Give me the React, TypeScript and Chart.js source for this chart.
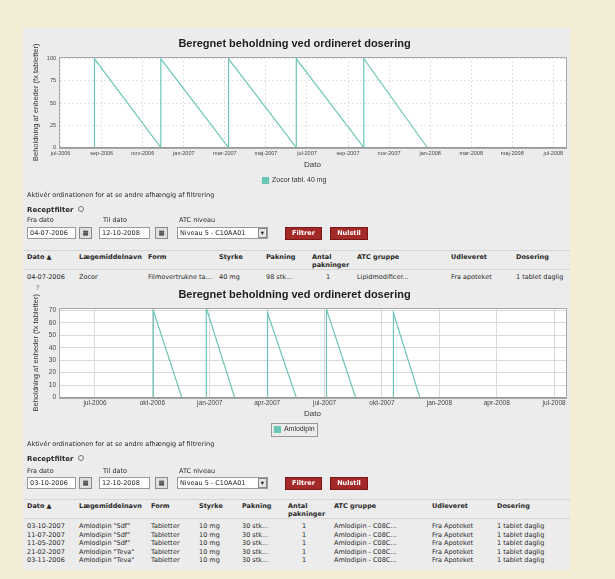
import React, { useEffect, useRef } from 'react';
import { Chart, registerables } from 'chart.js';

Chart.register(...registerables);

// ---------- Data (x = month index, 0 = jan-2006) ----------
const chartTitle = 'Beregnet beholdning ved ordineret dosering';
const yAxisTitle = 'Beholdning af enheder (fx tabletter)';
const xAxisTitle = 'Dato';

const chart1Months = [7.65, 7.65, 10.88, 10.88, 14.18, 14.18, 17.48, 17.48, 20.77, 20.77, 23.86];
const chart1Stock = [0, 100, 0, 100, 0, 100, 0, 100, 0, 100, 0];
const chart1TickMonths = [6, 8, 10, 12, 14, 16, 18, 20, 22, 24, 26, 28, 30];
const chart1TickLabels = ['jul-2006', 'sep-2006', 'nov-2006', 'jan-2007', 'mar-2007', 'maj-2007', 'jul-2007', 'sep-2007', 'nov-2007', 'jan-2008', 'mar-2008', 'maj-2008', 'jul-2008'];
const chart1YTicks = [0, 25, 50, 75, 100];
const chart1Legend = 'Zocor tabl. 40 mg';

const chart2Months = [9.05, 9.05, 10.54, 10.54, 11.82, 11.82, 13.3, 13.3, 15.02, 15.02, 16.52, 16.52, 18.1, 18.1, 19.62, 19.62, 21.6, 21.6, 22.98];
const chart2Stock = [0, 70, 0, null, 0, 72, 0, null, 0, 68, 0, null, 0, 71, 0, null, 0, 68, 0];
const chart2TickMonths = [6, 9, 12, 15, 18, 21, 24, 27, 30];
const chart2TickLabels = ['jul-2006', 'okt-2006', 'jan-2007', 'apr-2007', 'jul-2007', 'okt-2007', 'jan-2008', 'apr-2008', 'jul-2008'];
const chart2YTicks = [0, 10, 20, 30, 40, 50, 60, 70];
const chart2Legend = 'Amlodipin';

// ---------- page text ----------
const tableHeader = ['Dato ▲', 'Lægemiddelnavn', 'Form', 'Styrke', 'Pakning', 'Antal|pakninger', 'ATC gruppe', 'Udleveret', 'Dosering'];
const table1Rows = [
  ['04-07-2006', 'Zocor', 'Filmovertrukne ta...', '40 mg', '98 stk...', '1', 'Lipidmodificer...', 'Fra apoteket', '1 tablet daglig'],
];
const table2Rows = [
  ['03-10-2007', 'Amlodipin "Sdf"', 'Tabletter', '10 mg', '30 stk...', '1', 'Amlodipin - C08C...', 'Fra Apoteket', '1 tablet daglig'],
  ['11-07-2007', 'Amlodipin "Sdf"', 'Tabletter', '10 mg', '30 stk...', '1', 'Amlodipin - C08C...', 'Fra Apoteket', '1 tablet daglig'],
  ['11-05-2007', 'Amlodipin "Sdf"', 'Tabletter', '10 mg', '30 stk...', '1', 'Amlodipin - C08C...', 'Fra Apoteket', '1 tablet daglig'],
  ['21-02-2007', 'Amlodipin "Teva"', 'Tabletter', '10 mg', '30 stk...', '1', 'Amlodipin - C08C...', 'Fra Apoteket', '1 tablet daglig'],
  ['03-11-2006', 'Amlodipin "Teva"', 'Tabletter', '10 mg', '30 stk...', '1', 'Amlodipin - C08C...', 'Fra Apoteket', '1 tablet daglig'],
];

const LINE = '#6cc6b8';

const plotFrame = {
  id: 'plotFrame',
  beforeDraw(chart: any) {
    const { ctx, chartArea: a } = chart;
    ctx.save();
    ctx.fillStyle = '#ffffff';
    ctx.fillRect(a.left, a.top, a.right - a.left, a.bottom - a.top);
    ctx.restore();
  },
  afterDraw(chart: any, _args: any, opts: any) {
    const { ctx, chartArea: a } = chart;
    ctx.save();
    ctx.strokeStyle = '#a8a8a8';
    ctx.lineWidth = 1;
    ctx.strokeRect(Math.round(a.left) + 0.5, Math.round(a.top) + 0.5, Math.round(a.right - a.left), Math.round(a.bottom - a.top));
    if (opts && opts.boxLegend && chart.legend && chart.legend.legendHitBoxes && chart.legend.legendHitBoxes.length) {
      const hb = chart.legend.legendHitBoxes[0];
      ctx.strokeStyle = '#9a9a9a';
      ctx.strokeRect(Math.round(hb.left - 3) + 0.5, Math.round(hb.top - 3) + 0.5, Math.round(hb.width + 6), Math.round(hb.height + 6));
    }
    ctx.restore();
  },
};

type SawProps = {
  months: number[]; stock: (number | null)[]; yMax: number; yTicks: number[];
  xMin: number; xMax: number; tickMonths: number[]; tickLabels: string[];
  legend: string; boxLegend: boolean; dashed: boolean; xAxisH: number; tickPad: number;
  tickSize: number; left: number; top: number; width: number; height: number;
};

function SawChart(p: SawProps) {
  const ref = useRef<HTMLCanvasElement>(null);
  useEffect(() => {
    const titleSize = 11;
    const lh = titleSize * 1.2;
    const data = p.months.map((x, i) => ({ x, y: p.stock[i] }));
    const gridColor = p.dashed ? '#e2e2e2' : '#dadada';
    const chart = new Chart(ref.current as HTMLCanvasElement, {
      type: 'line',
      data: {
        datasets: [{
          label: p.legend,
          data,
          borderColor: LINE,
          backgroundColor: LINE,
          borderWidth: 1.2,
          pointRadius: 0,
          fill: false,
          tension: 0,
          spanGaps: false,
        }],
      },
      options: {
        responsive: false,
        animation: false,
        layout: { padding: { left: 0, right: 4, top: 0, bottom: 0 } },
        plugins: {
          title: {
            display: true,
            text: chartTitle,
            color: '#1e1e1e',
            font: { family: 'Liberation Sans', size: titleSize, weight: 'bold' },
            padding: { top: 16 - lh / 2, bottom: 29 - 16 - lh / 2 },
          },
          legend: {
            position: 'bottom',
            labels: {
              boxWidth: 6, boxHeight: 6, padding: 7.5, color: '#333',
              font: { family: 'Liberation Sans', size: 7 },
            },
          },
          tooltip: { enabled: false },
          plotFrame: { boxLegend: p.boxLegend },
        } as any,
        scales: {
          x: {
            type: 'linear',
            min: p.xMin,
            max: p.xMax,
            afterBuildTicks: (s: any) => { s.ticks = p.tickMonths.map((v) => ({ value: v })); },
            afterFit: (s: any) => { s.height = p.xAxisH; },
            ticks: {
              autoSkip: false, maxRotation: 0, padding: p.tickPad, color: '#444',
              font: { family: 'Liberation Sans', size: p.tickSize },
              callback: (v: any) => { const i = p.tickMonths.indexOf(Number(v)); return i >= 0 ? p.tickLabels[i] : ''; },
            },
            grid: { color: gridColor, drawTicks: false },
            border: { color: '#999', dash: p.dashed ? [2, 2] : [] },
            title: { display: true, text: xAxisTitle, color: '#333', font: { family: 'Liberation Sans', size: 8 }, padding: { top: 0, bottom: 0 } },
          },
          y: {
            min: 0,
            max: p.yMax,
            afterBuildTicks: (s: any) => { s.ticks = p.yTicks.map((v) => ({ value: v })); },
            afterFit: (s: any) => { s.width = 36; },
            ticks: { padding: 3, color: '#444', font: { family: 'Liberation Sans', size: p.tickSize } },
            grid: { color: gridColor, drawTicks: false },
            border: { color: '#999', dash: p.dashed ? [2, 2] : [] },
            title: { display: true, text: yAxisTitle, color: '#333', font: { family: 'Liberation Sans', size: 7.5 }, padding: { top: 13 - 4.5, bottom: 0 } },
          },
        },
      } as any,
      plugins: [plotFrame as any],
    });
    return () => chart.destroy();
  }, []);
  return (
    <canvas ref={ref} width={p.width} height={p.height}
      style={{ position: 'absolute', left: p.left, top: p.top, width: p.width, height: p.height }} />
  );
}

const FONT = '"DejaVu Sans", Verdana, sans-serif';

function Txt({ x, y, children, bold, size, color }: any) {
  return (
    <div style={{ position: 'absolute', left: x, top: y - 5, lineHeight: '10px', fontSize: size || 6.5, fontWeight: bold ? 'bold' : 'normal', color: color || '#2a2a2a', whiteSpace: 'nowrap', fontFamily: FONT }}>
      {children}
    </div>
  );
}

function Box({ x, y, w, h, bg, border, children, color, bold, center }: any) {
  return (
    <div style={{ position: 'absolute', left: x, top: y, width: w, height: h, boxSizing: 'border-box', background: bg, border: border, color: color || '#222', fontSize: 6.5, lineHeight: (h - 2) + 'px', fontFamily: FONT, fontWeight: bold ? 'bold' : 'normal', textAlign: center ? 'center' : 'left', paddingLeft: center ? 0 : 2, whiteSpace: 'nowrap', overflow: 'hidden' }}>
      {children}
    </div>
  );
}

function FilterForm({ textY, boldY, labelY, inputY, fromDate }: any) {
  const t = inputY - 6;
  return (
    <>
      <Txt x={27} y={textY}>Aktivér ordinationen for at se andre afhængig af filtrering</Txt>
      <Txt x={27} y={boldY} bold size={7}>Receptfilter</Txt>
      <div style={{ position: 'absolute', left: 78, top: boldY - 4, width: 6, height: 6, border: '1px solid #777', borderRadius: 4, boxSizing: 'border-box' }} />
      <Txt x={27} y={labelY}>Fra dato</Txt>
      <Txt x={103} y={labelY}>Til dato</Txt>
      <Txt x={179} y={labelY}>ATC niveau</Txt>
      <Box x={27} y={t} w={49} h={12} bg="#fff" border="1px solid #9a9a9a">{fromDate}</Box>
      <Box x={79} y={t} w={13} h={12} bg="#e0e0e0" border="1px solid #8a8a8a" center>▦</Box>
      <Box x={99} y={t} w={51} h={12} bg="#fff" border="1px solid #9a9a9a">12-10-2008</Box>
      <Box x={155} y={t} w={13} h={12} bg="#e0e0e0" border="1px solid #8a8a8a" center>▦</Box>
      <Box x={177} y={t} w={91} h={12} bg="#fff" border="1px solid #9a9a9a">Niveau 5 - C10AA01</Box>
      <Box x={258} y={t + 1} w={9} h={10} bg="#e4e4e4" border="1px solid #888" center>▾</Box>
      <Box x={285} y={t} w={37} h={13} bg="#a42a2a" border="1px solid #7a1616" color="#fff" bold center>Filtrer</Box>
      <Box x={330} y={t} w={38} h={13} bg="#a42a2a" border="1px solid #7a1616" color="#fff" bold center>Nulstil</Box>
    </>
  );
}

function Table({ headerY, rowYs, cols, rows }: any) {
  return (
    <>
      <div style={{ position: 'absolute', left: 23, top: headerY - 7, width: 547, height: 1, background: '#d6d6d6' }} />
      {tableHeader.map((h, i) => {
        const parts = h.split('|');
        return parts.map((s, j) => (
          <Txt key={i + '-' + j} x={cols[i]} y={headerY + j * 8} bold>{s}</Txt>
        ));
      })}
      <div style={{ position: 'absolute', left: 23, top: headerY + 12, width: 547, height: 1, background: '#d6d6d6' }} />
      {rows.map((r: string[], ri: number) => r.map((c, ci) => (
        <Txt key={ri + '-' + ci} x={ci === 5 ? cols[ci] + 14 : cols[ci]} y={rowYs[ri]}>{c}</Txt>
      )))}
    </>
  );
}

export default function App() {
  const cols1 = [27, 79, 148, 219, 266, 312, 357, 451, 516];
  const cols2 = [27, 79, 151, 199, 242, 288, 334, 432, 497];
  return (
    <div style={{ position: 'fixed', left: 0, top: 0, width: 615, height: 579, background: '#f3edd6', overflow: 'hidden', fontFamily: FONT }}>
      <div style={{ position: 'absolute', left: 23, top: 28, width: 547, height: 542, background: '#ececec' }} />
      <SawChart months={chart1Months} stock={chart1Stock} yMax={102} yTicks={chart1YTicks}
        xMin={5.92} xMax={30.62} tickMonths={chart1TickMonths} tickLabels={chart1TickLabels}
        legend={chart1Legend} boxLegend={false} dashed={true} xAxisH={22} tickPad={3} tickSize={5.5}
        left={23} top={28} width={547} height={166} />
      <FilterForm textY={195} boldY={210} labelY={220} inputY={233} fromDate="04-07-2006" />
      <Table headerY={257} rowYs={[277]} cols={cols1} rows={table1Rows} />
      <Txt x={36} y={288} color="#666">?</Txt>
      <SawChart months={chart2Months} stock={chart2Stock} yMax={72} yTicks={chart2YTicks}
        xMin={4.12} xMax={30.62} tickMonths={chart2TickMonths} tickLabels={chart2TickLabels}
        legend={chart2Legend} boxLegend={true} dashed={false} xAxisH={21} tickPad={2} tickSize={6.5}
        left={23} top={279} width={547} height={164} />
      <FilterForm textY={444} boldY={459} labelY={471} inputY={483} fromDate="03-10-2006" />
      <Table headerY={506} rowYs={[526, 534.5, 543, 551.5, 560]} cols={cols2} rows={table2Rows} />
    </div>
  );
}
